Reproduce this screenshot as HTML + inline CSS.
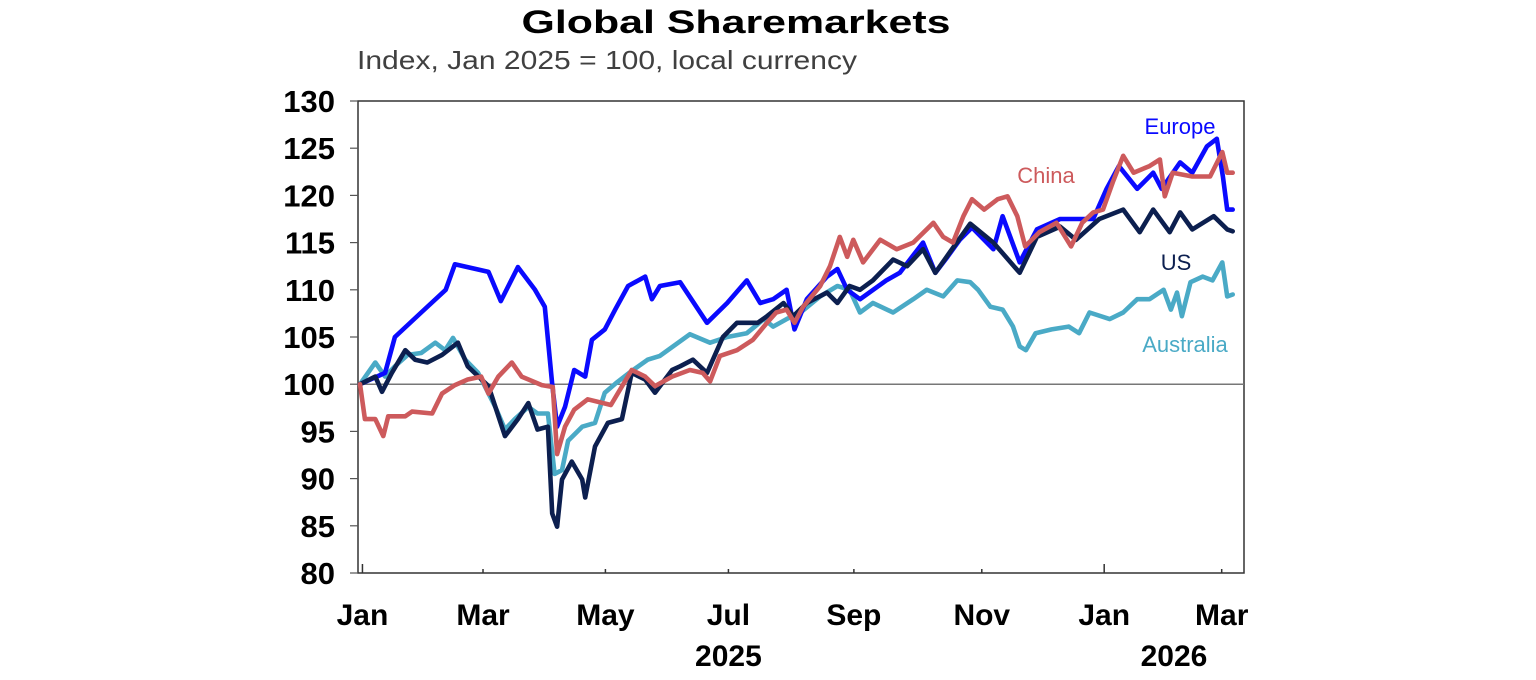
<!DOCTYPE html>
<html><head><meta charset="utf-8"><style>
html,body{margin:0;padding:0;background:#fff;}
svg{display:block;font-family:"Liberation Sans",Arial,sans-serif;}
</style></head><body>
<svg id="chart" width="1536" height="680" viewBox="0 0 1536 680" xmlns="http://www.w3.org/2000/svg">
<text x="736" y="33" text-anchor="middle" font-size="32" font-weight="bold" fill="#000" textLength="429" lengthAdjust="spacingAndGlyphs">Global Sharemarkets</text>
<text x="357" y="69" font-size="26" fill="#404040" textLength="500" lengthAdjust="spacingAndGlyphs">Index, Jan 2025 = 100, local currency</text>
<g id="axes"></g>
<g id="series"></g>
<g id="labels">
<text x="1180" y="134" text-anchor="middle" font-size="22" fill="#0a0aff">Europe</text>
<text x="1046" y="183" text-anchor="middle" font-size="22" fill="#cd5a5c">China</text>
<text x="1176" y="270" text-anchor="middle" font-size="22" fill="#0c1f4f">US</text>
<text x="1185" y="352" text-anchor="middle" font-size="22" fill="#4aaac6">Australia</text>
</g>
</svg>
<script>
// y ticks
const yTicks = [80,85,90,95,100,105,110,115,120,125,130];
// x ticks (months since Jan 2025) and labels
const xTickM = [0.04,2.01,4.01,6.02,8.07,10.16,12.16,14.08];
const xTickLabels = ["Jan","Mar","May","Jul","Sep","Nov","Jan","Mar"];
const yearLabels = ["2025","2026"];
const yearLabelM = [6.02,13.3];

// Europe
const euroM = [0,0.41,0.57,1.0,1.4,1.55,2.1,2.3,2.58,2.86,3.02,3.14,3.22,3.35,3.5,3.68,3.79,4.0,4.17,4.38,4.66,4.77,4.9,5.23,5.67,6.0,6.32,6.54,6.75,6.97,7.1,7.3,7.63,7.8,7.96,8.17,8.6,8.82,9.2,9.4,9.6,9.8,10.0,10.35,10.5,10.78,11.06,11.44,11.98,12.2,12.4,12.7,12.96,13.1,13.4,13.6,13.84,14.0,14.1,14.17,14.26];
const euroV = [100,101.2,105,107.6,110,112.7,111.9,108.8,112.4,110,108.2,100,95.5,97.6,101.5,100.8,104.7,105.8,107.9,110.4,111.4,109,110.4,110.8,106.5,108.6,111,108.6,109,110,105.8,109,111.4,112.2,110,109,111,111.8,115,111.8,113.5,115.3,116.6,114.3,117.8,112.9,116.4,117.5,117.5,120.7,123.1,120.7,122.4,120.7,123.5,122.4,125.2,126,122,118.5,118.5];
// US
const usM = [0,0.25,0.36,0.52,0.74,0.9,1.1,1.34,1.6,1.76,2.1,2.37,2.58,2.75,2.9,3.07,3.14,3.22,3.3,3.46,3.63,3.68,3.84,4.05,4.28,4.44,4.66,4.82,5.1,5.23,5.44,5.67,5.93,6.16,6.5,6.65,6.92,7.08,7.3,7.63,7.8,8.0,8.17,8.38,8.71,8.94,9.2,9.4,9.64,9.97,10.35,10.78,11.06,11.44,11.7,12.08,12.47,12.74,12.96,13.23,13.4,13.6,13.95,14.17,14.26];
const usV = [100,100.8,99.2,101.2,103.6,102.6,102.3,103.1,104.4,101.9,99.8,94.5,96.3,98,95.2,95.5,86.3,84.9,89.9,91.8,89.9,88,93.4,95.9,96.3,101.2,100.5,99.1,101.5,101.9,102.6,101.2,105,106.5,106.5,107.2,108.6,107.2,108.6,109.7,108.6,110.4,110,111,113.2,112.5,114.3,111.8,114,117,115,111.8,115.6,116.7,115.3,117.5,118.5,116.1,118.5,116.1,118.2,116.4,117.8,116.4,116.2];
// China
const chinaM = [0,0.08,0.25,0.38,0.46,0.74,0.85,1.18,1.34,1.55,1.76,1.98,2.1,2.26,2.48,2.64,2.97,3.15,3.22,3.35,3.5,3.72,4.1,4.44,4.66,4.82,5.1,5.39,5.6,5.72,5.88,6.16,6.42,6.65,6.8,6.97,7.1,7.24,7.52,7.68,7.84,7.96,8.06,8.22,8.5,8.77,9.04,9.37,9.53,9.69,9.86,10.0,10.2,10.42,10.58,10.74,10.87,11.1,11.38,11.62,11.8,11.98,12.14,12.3,12.47,12.64,12.9,13.07,13.15,13.28,13.6,13.89,14.09,14.17,14.26];
const chinaV = [100,96.3,96.3,94.5,96.6,96.6,97.1,96.9,99,99.9,100.5,100.8,99,100.8,102.3,100.8,99.9,99.7,92.6,95.5,97.3,98.4,97.8,101.5,100.8,99.8,100.8,101.5,101.2,100.3,103,103.6,104.7,106.5,107.6,107.9,106.5,108.2,110.4,112.5,115.6,113.5,115.3,112.9,115.3,114.3,115,117.1,115.6,115,117.8,119.6,118.5,119.6,119.9,117.8,114.6,116.1,117.1,114.6,117.1,118.2,118.5,121.4,124.2,122.4,123.1,123.8,119.9,122.4,122,122,124.6,122.4,122.4];
// Australia
const ausM = [0,0.25,0.41,0.57,0.78,1.0,1.23,1.39,1.52,1.72,1.93,2.21,2.37,2.53,2.75,2.9,3.07,3.18,3.3,3.4,3.63,3.84,4.0,4.2,4.44,4.7,4.9,5.39,5.72,6.0,6.32,6.6,6.75,6.97,7.2,7.52,7.8,8.0,8.17,8.38,8.71,9.04,9.26,9.53,9.76,9.97,10.1,10.3,10.5,10.67,10.78,10.88,11.04,11.3,11.58,11.75,11.92,12.25,12.47,12.7,12.9,13.13,13.25,13.35,13.43,13.57,13.77,13.93,14.09,14.17,14.26];
const ausV = [100,102.3,100.8,101.9,103.1,103.3,104.4,103.6,104.9,102.6,101.2,97.6,95.2,96.3,97.6,96.9,96.9,90.5,90.9,94,95.5,95.9,99.1,100.2,101.4,102.6,103,105.3,104.4,105,105.4,106.9,106.1,106.9,107.6,109.3,110.4,110,107.6,108.6,107.6,109,110,109.3,111,110.8,110,108.2,107.9,106.1,104,103.6,105.4,105.8,106.1,105.4,107.6,106.9,107.6,109,109,110,107.9,109.7,107.2,110.8,111.4,111,112.9,109.3,109.5];

const X0=358, X1=1244, Y0=573, Y1=101;
function xScale(m){ return 360 + m*61.2; }
function yScale(v){ return Y0 - (v-80)*(Y0-Y1)/50; }
const NS="http://www.w3.org/2000/svg";
function mk(tag, attrs, parent){ const e=document.createElementNS(NS,tag); for(const k in attrs) e.setAttribute(k,attrs[k]); parent.appendChild(e); return e; }
const axes=document.getElementById('axes');
const frame = mk('rect',{x:X0,y:Y1,width:X1-X0,height:Y0-Y1,fill:'none',stroke:'#333','stroke-width':1.5},axes);


const base = mk('line',{x1:X0,x2:X1,y1:yScale(100),y2:yScale(100),stroke:'#777','stroke-width':1.5},axes);


yTicks.forEach(v=>{
  const y=yScale(v);
  const t=mk('line',{x1:X0-8,x2:X0,y1:y,y2:y,stroke:'#555','stroke-width':1.2},axes);
  
  
  const l=mk('text',{x:335,y:y+11,'text-anchor':'end','font-size':31,'font-weight':'bold',fill:'#000'},axes);
  
  
  l.textContent=v;
});
xTickM.forEach((m,i)=>{
  const x=xScale(m);
  const len=(i===0||i===6)?9:4;
  const t=mk('line',{x1:x,x2:x,y1:Y0-len,y2:Y0,stroke:'#333','stroke-width':1.5},axes);
  
  
  const l=mk('text',{x:x,y:625,'text-anchor':'middle','font-size':30,'font-weight':'bold',fill:'#000'},axes);
  
  
  l.textContent=xTickLabels[i];
});
yearLabels.forEach((s,i)=>{
  const l=mk('text',{x:xScale(yearLabelM[i]),y:666,'text-anchor':'middle','font-size':30,'font-weight':'bold',fill:'#000'},axes);
  
  
  l.textContent=s;
});
const sg=document.getElementById('series');
function line(ms,vs,color,name){
  const d=ms.map((m,i)=>(i?'L':'M')+xScale(m).toFixed(1)+','+yScale(vs[i]).toFixed(1)).join(' ');
  const p=mk('path',{d:d,fill:'none',stroke:color,'stroke-width':4.6,'stroke-linejoin':'round','stroke-linecap':'round'},sg);
  
  
}
line(ausM,ausV,'#4aaac6','line-australia');
line(euroM,euroV,'#0a0aff','line-europe');
line(usM,usV,'#0c1f4f','line-us');
line(chinaM,chinaV,'#cd5a5c','line-china');
</script>
</body></html>
